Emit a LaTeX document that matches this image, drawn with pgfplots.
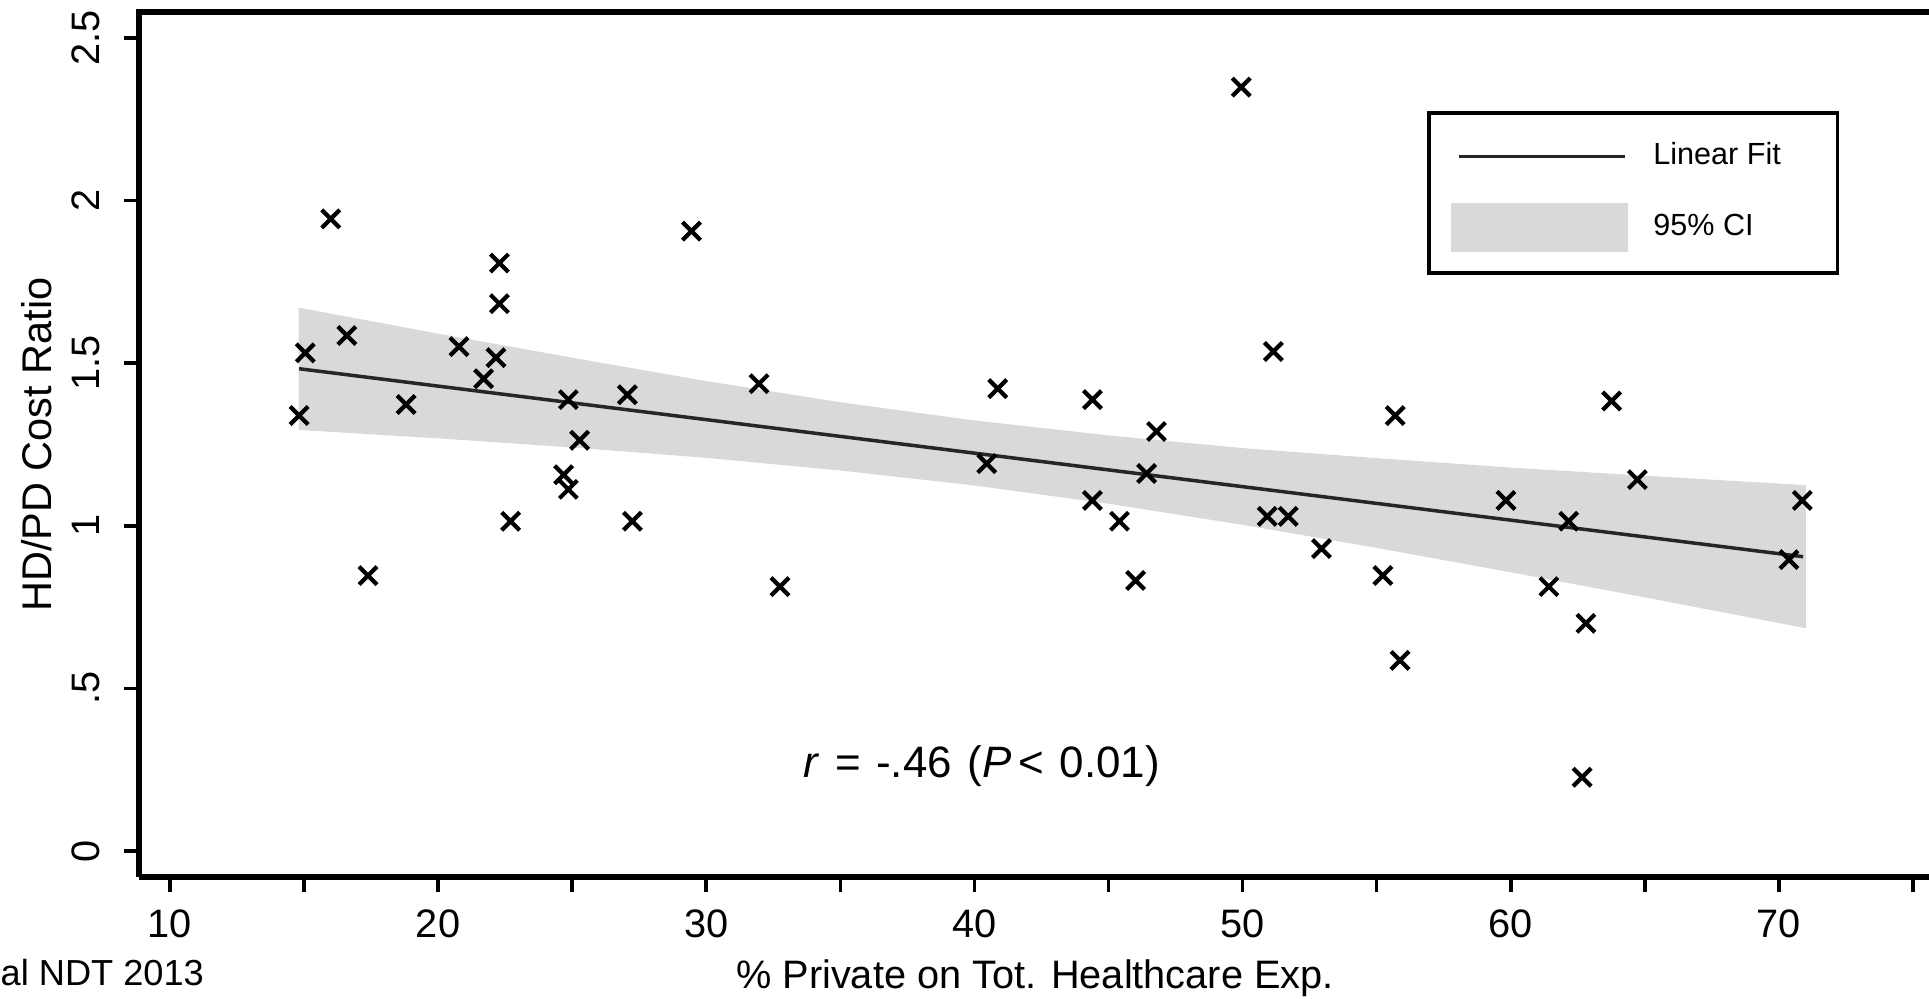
\documentclass[border=0pt]{standalone}
\usepackage{fontspec}
\setmainfont{Liberation Sans}
\usepackage{pgfplots}
\pgfplotsset{compat=1.18}
\begin{document}
\begin{tikzpicture}
\useasboundingbox (-13.9mm,-12.1mm) rectangle (179.0mm,87.7mm);
\begin{axis}[
  name=ax,
  at={(0,0)}, anchor=south west,
  scale only axis, width=179.2mm, height=86.5mm,
  xmin=8.85, xmax=75.67, ymin=-0.08, ymax=2.58,
  axis lines=left,
  axis line style={-, line width=1.5pt, black},
  tick align=outside,
  major tick length=1.5mm,
  tick style={line width=1pt, black},
  xtick={10,15,20,25,30,35,40,45,50,55,60,65,70,75},
  xticklabels={10,,20,,30,,40,,50,,60,,70,},
  ytick={0,0.5,1,1.5,2,2.5},
  yticklabels={0,.5,1,1.5,2,2.5},
  ticklabel style={font=\fontsize{11.3}{13}\selectfont},
  yticklabel style={rotate=90, anchor=south},
  yticklabel shift=1.2mm,
  xticklabel shift=0.5mm,
  xlabel={\% Private on Tot. Healthcare Exp.},
  ylabel={HD/PD Cost Ratio},
  every axis x label/.style={at={(axis description cs:0.5,0)}, anchor=base, yshift=-11.1mm, font=\fontsize{11.3}{13}\selectfont},
  every axis y label/.style={at={(axis description cs:-0.057,0.5)}, rotate=90, anchor=center, font=\fontsize{11.8}{14}\selectfont},
  legend style={
    at={(rel axis cs:0.7188,0.8855)}, anchor=north west,
    draw=black, line width=1pt,
    inner xsep=2.2mm, inner ysep=2.1mm,
    row sep=2.45mm, column sep=2.5mm,
    font=\fontsize{8.7}{10}\selectfont,
    cells={anchor=west},
    nodes={inner sep=0pt},
  },
]
% 95% CI band (upper edge left to right, lower edge right to left)
\addplot[forget plot, fill=black!15, draw=none] coordinates {
  (14.8,1.671) (20,1.591) (25,1.517) (30,1.445) (35,1.380) (40,1.324)
  (45,1.278) (50,1.239) (55,1.208) (60,1.179) (65,1.154) (71,1.125)
  (71,0.685) (65,0.780) (60,0.857) (55,0.932) (50,1.003) (45,1.068)
  (40,1.124) (35,1.170) (30,1.209) (25,1.241) (20,1.269) (14.8,1.295)
} -- cycle;
% linear fit
\addplot[line width=1pt, color=black!85,
  legend image code/.code={\path[draw=none, fill=none] (0mm,-2.25mm) rectangle (17.4mm,2.25mm);
    \draw[line width=1pt, black!85] (0.6mm,0mm) -- (17.2mm,0mm);}]
  coordinates {(14.82,1.483) (70.9,0.905)};
\addlegendentry{\makebox[16.2mm][l]{Linear Fit}}
\addlegendimage{legend image code/.code={\fill[black!15] (0mm,-2.25mm) rectangle (17.4mm,2.25mm);}}
\addlegendentry{\makebox[16.2mm][l]{95\% CI}}
% observations
\addplot[forget plot, only marks, mark=x, mark size=1.27mm, mark options={line width=1.2pt, black}] coordinates {
  (14.82,1.339) (15.05,1.532) (16.0,1.944) (16.6,1.585) (17.39,0.847)
  (18.81,1.373) (20.78,1.551) (21.70,1.452) (22.29,1.808) (22.29,1.683)
  (22.16,1.517) (22.71,1.014) (24.86,1.388) (24.68,1.157) (24.86,1.112)
  (25.28,1.263) (27.06,1.403) (27.25,1.014) (29.45,1.906) (31.97,1.437)
  (32.75,0.813) (40.46,1.191) (40.87,1.422) (44.40,1.388) (44.40,1.078)
  (45.41,1.014) (46.01,0.832) (46.42,1.161) (46.79,1.290) (49.95,2.349)
  (50.92,1.029) (51.15,1.536) (51.70,1.029) (52.94,0.930) (55.23,0.847)
  (55.69,1.339) (55.87,0.586) (59.82,1.078) (61.42,0.813) (62.16,1.014)
  (62.66,0.227) (62.80,0.700) (63.76,1.384) (64.72,1.142) (70.37,0.896)
  (70.87,1.078)
};
\node[font=\fontsize{12.5}{14}\selectfont] at (axis cs:40.28,0.261)
  {\textit{r}\hspace{.35em}=\hspace{.35em}-.46\hspace{.35em}(\textit{P}\hspace{.17em}<\hspace{.35em}0.01)};
\end{axis}
\draw[line width=1.5pt, line cap=rect] (ax.north west) -- (ax.north east);
\node[anchor=base west, inner sep=0pt, font=\fontsize{10.3}{12}\selectfont] at (-13.9mm,-10.8mm) {al NDT 2013};
\end{tikzpicture}
\end{document}
